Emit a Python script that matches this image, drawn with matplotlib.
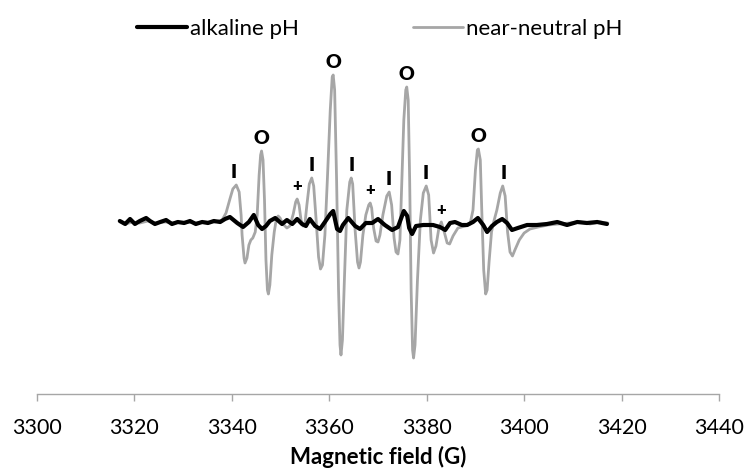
import matplotlib
matplotlib.use("Agg")
import matplotlib.pyplot as plt
import numpy as np

plt.rcParams['font.family'] = ['Lato', 'DejaVu Sans']

# ---- data ----
neutral_field = [3317.0, 3318.3, 3319.5, 3321.1, 3322.8, 3324.4, 3326.3, 3328.3, 3330.4, 3332.4,
                 3334.5, 3336.5, 3338.0, 3338.8, 3339.6, 3340.2, 3340.9, 3341.5, 3341.9, 3342.1,
                 3342.5, 3342.7, 3343.1, 3343.5, 3343.9, 3344.3, 3344.8, 3345.2, 3345.6, 3345.9,
                 3346.1, 3346.4, 3346.7, 3347.0, 3347.3, 3347.5, 3347.8, 3348.2, 3348.7, 3349.1,
                 3349.5, 3349.9, 3350.5, 3351.3, 3351.9, 3352.6, 3353.1, 3353.4, 3353.8, 3354.2,
                 3354.6, 3355.0, 3355.4, 3355.9, 3356.4, 3356.8, 3357.3, 3357.8, 3358.2, 3358.6,
                 3359.1, 3359.6, 3360.2, 3360.6, 3360.8, 3361.1, 3361.5, 3361.9, 3362.2, 3362.4,
                 3362.7, 3363.1, 3363.6, 3364.2, 3364.5, 3364.8, 3365.3, 3365.8, 3366.1, 3366.4,
                 3366.9, 3367.5, 3368.1, 3368.4, 3368.7, 3369.1, 3369.6, 3370.0, 3370.4, 3371.0,
                 3371.8, 3372.3, 3372.8, 3373.3, 3373.7, 3374.1, 3374.5, 3374.9, 3375.3, 3375.7,
                 3375.9, 3376.2, 3376.5, 3376.8, 3377.1, 3377.3, 3377.6, 3378.1, 3378.7, 3379.3,
                 3379.9, 3380.4, 3380.9, 3381.4, 3381.9, 3382.5, 3383.0, 3383.6, 3384.2, 3384.7,
                 3385.4, 3386.4, 3387.9, 3388.9, 3389.5, 3390.0, 3390.4, 3390.6, 3391.0, 3391.3,
                 3391.7, 3392.1, 3392.4, 3392.8, 3393.3, 3393.8, 3394.4, 3395.1, 3395.6, 3396.1,
                 3396.6, 3397.1, 3397.6, 3398.1, 3399.0, 3400.0, 3401.2, 3402.9, 3404.9, 3407.0,
                 3409.4, 3411.5, 3413.5, 3415.6, 3417.2]
neutral_signal = [2, -1, 1, 0, 2, 0, 1, 0, 1, 0,
                  1, 1, 3, 10, 24, 34, 38, 31, 8, -12,
                  -35, -40, -35, -22, -17, -15, -9, 8, 48, 68,
                  72, 63, 23, -37, -67, -71, -62, -32, -9, 3,
                  7, 5, -1, -5, -3, 9, 21, 24, 18, 3,
                  -3, -1, 18, 39, 45, 37, 3, -34, -46, -42,
                  -12, 43, 113, 146, 148, 133, 43, -67, -122, -132,
                  -117, -57, 13, 41, 45, 39, -7, -39, -45, -39,
                  -12, 8, 18, 20, 15, -5, -18, -19, -12, 8,
                  27, 31, 18, -15, -29, -31, -17, 43, 103, 133,
                  136, 123, 43, -67, -127, -135, -122, -57, 3, 30,
                  37, 28, -17, -30, -23, -5, 1, -9, -20, -21,
                  -13, -5, -3, -1, 13, 53, 73, 74, 63, 13,
                  -47, -71, -67, -39, -9, 2, 13, 30, 37, 27,
                  -9, -29, -33, -27, -17, -10, -6, -4, -2, -1,
                  0, 1, -1, 1, 0]

alkaline_field = [3317.0, 3318.1, 3319.1, 3320.1, 3321.1, 3322.4, 3323.2, 3324.2, 3325.3, 3326.5,
                  3327.7, 3328.9, 3330.2, 3331.4, 3332.6, 3333.9, 3335.1, 3336.3, 3337.6, 3338.6,
                  3339.6, 3341.1, 3342.3, 3343.5, 3344.5, 3345.4, 3346.2, 3347.0, 3347.8, 3348.9,
                  3350.3, 3351.3, 3352.4, 3353.4, 3354.4, 3355.2, 3356.0, 3357.1, 3358.1, 3359.1,
                  3360.2, 3360.8, 3361.6, 3362.2, 3362.8, 3363.9, 3365.3, 3366.3, 3367.5, 3368.8,
                  3370.0, 3371.4, 3372.9, 3374.1, 3374.7, 3375.3, 3376.0, 3376.4, 3377.0, 3377.8,
                  3379.3, 3381.3, 3382.7, 3383.8, 3384.8, 3385.8, 3387.2, 3388.3, 3389.5, 3390.5,
                  3391.6, 3392.4, 3393.4, 3394.4, 3395.5, 3396.5, 3397.5, 3398.7, 3400.6, 3402.6,
                  3404.7, 3406.8, 3408.8, 3410.9, 3412.9, 3415.0, 3417.0]
alkaline_signal = [2, -1, 4, -1, 2, 5, 2, -1, 1, 3,
                   -1, 1, 0, 2, -1, 1, 0, 2, 1, 4,
                   6, 0, -4, 1, 8, -2, -6, -3, 2, 5,
                   -1, 3, -1, 4, -1, -3, 4, -3, -6, 1,
                   9, 12, -6, -8, -2, 5, -3, -6, 0, 0,
                   4, -2, -7, -4, 4, 12, 7, -5, -11, -3,
                   -2, -2, -4, -7, 0, 1, -2, -2, 1, 5,
                   -2, -9, -3, 1, 4, 0, -7, -5, -2, -2,
                   -1, 1, -2, 1, 0, 1, -1]

peak_labels = ['I', 'O', '+', 'I', 'O', 'I', '+', 'I', 'O', 'I', '+', 'O', 'I']
peak_fields = [3340.4, 3346.1, 3353.4, 3356.3, 3360.8, 3364.5, 3368.4, 3372.2, 3375.9,
               3379.8, 3383.0, 3390.6, 3395.7]

x_ticks = [3300, 3320, 3340, 3360, 3380, 3400, 3420, 3440]
series_names = ['alkaline pH', 'near-neutral pH']
x_title = 'Magnetic field (G)'

# ---- figure ----
fig = plt.figure(figsize=(7.47, 4.70), dpi=100)
ax = fig.add_axes([37 / 747, 1 - 394 / 470, (719 - 37) / 747, (394 - 60) / 470])

gray = '#a6a6a6'
l2, = ax.plot(neutral_field, neutral_signal, color=gray, lw=2.0, zorder=2,
              solid_joinstyle='round', solid_capstyle='round')
l1, = ax.plot(alkaline_field, alkaline_signal, color='black', lw=3.0, zorder=3,
              solid_joinstyle='round', solid_capstyle='round')

ax.set_xlim(3300, 3440)
ax.set_ylim(-171, 163)
ax.set_xticks(x_ticks)
ax.set_xticklabels([str(t) for t in x_ticks], fontsize=15.5)
ax.tick_params(axis='x', direction='out', length=5, width=1, color='#a6a6a6', pad=12)
ax.set_yticks([])
for s in ['left', 'top', 'right']:
    ax.spines[s].set_visible(False)
ax.spines['bottom'].set_color('#a6a6a6')
ax.spines['bottom'].set_linewidth(1)

fig.text(378 / 747, 1 - 464 / 470, x_title, ha='center', va='baseline',
         fontsize=16, fontweight='bold')

# peak markers
nf = np.array(neutral_field)
ns = np.array(neutral_signal)
for lab, f in zip(peak_labels, peak_fields):
    mask = np.abs(nf - f) <= 1.0
    top = ns[mask].max()
    fs = 12 if lab == '+' else 14
    ax.annotate(lab, xy=(f, top), xytext=(0, 9), textcoords='offset points',
                ha='center', va='center', fontsize=fs, fontweight='heavy', color='black')

fig.legend([l1, l2], series_names, loc='center left',
           bbox_to_anchor=(137 / 747, 1 - 29 / 470), bbox_transform=fig.transFigure,
           ncol=2, frameon=False, fontsize=16, handlelength=2.25, handletextpad=0.15,
           columnspacing=5.1, borderpad=0, borderaxespad=0)

fig.savefig('out.png', dpi=100)
